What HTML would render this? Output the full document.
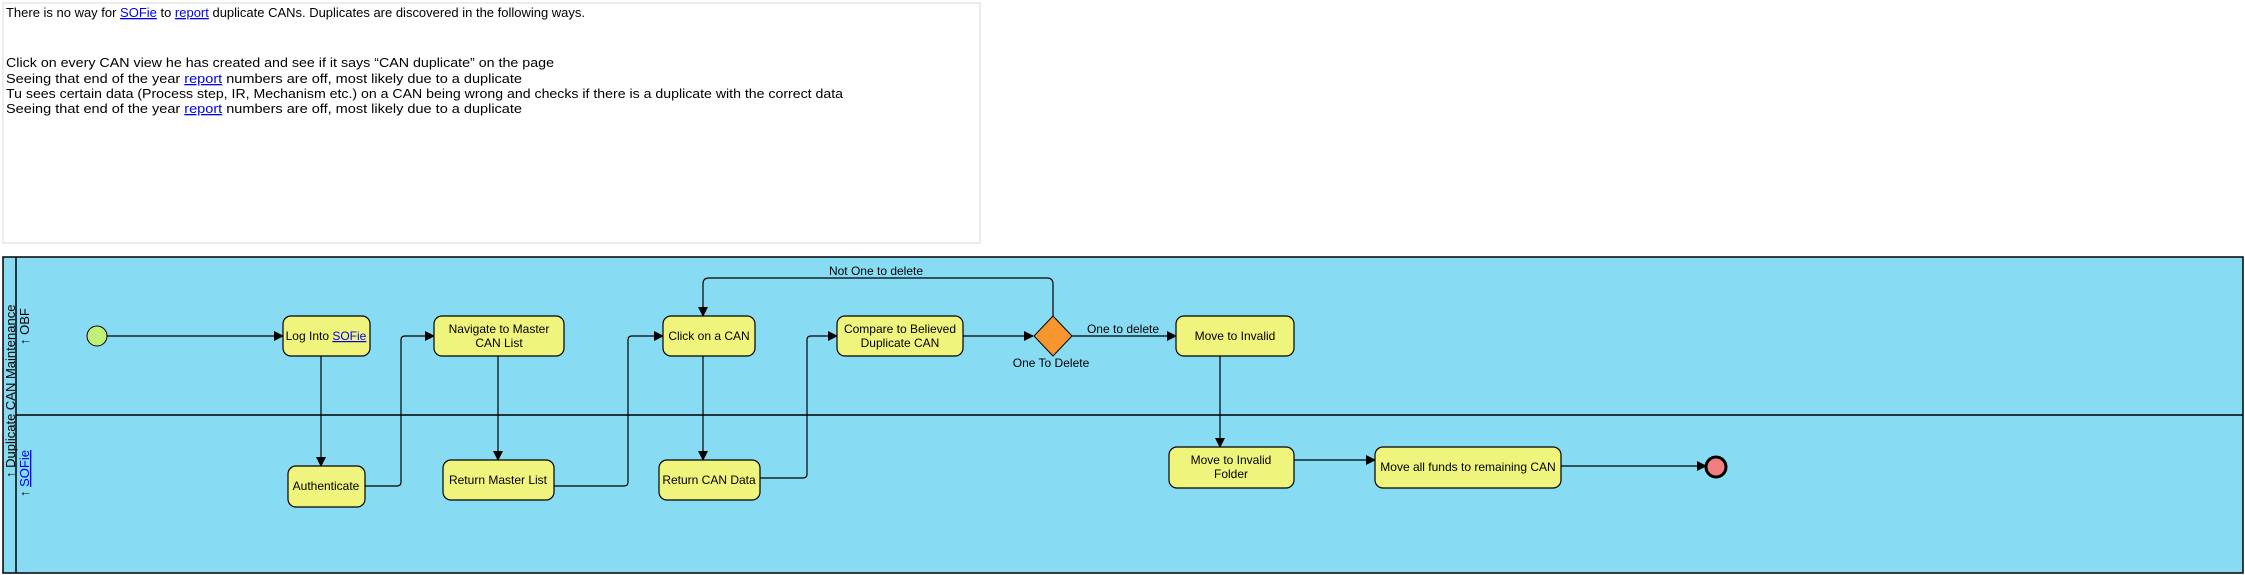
<!DOCTYPE html>
<html><head><meta charset="utf-8"><style>
html,body{margin:0;padding:0;background:#fff;}
svg{display:block;}
text{font-family:"Liberation Sans",sans-serif;}
</style></head><body>
<svg width="2245" height="575" viewBox="0 0 2245 575" xmlns="http://www.w3.org/2000/svg">
<defs>
<marker id="a" markerWidth="10" markerHeight="10" refX="9" refY="5" orient="auto" markerUnits="userSpaceOnUse">
<path d="M0,0 L10,5 L0,10 z" fill="#000"/></marker>
</defs>
<rect x="3" y="3" width="977" height="240" fill="#fff" stroke="#d8d8d8" stroke-width="1"/>
<g font-size="13" fill="#000">
<text x="6" y="17" textLength="579" lengthAdjust="spacingAndGlyphs">There is no way for <tspan fill="#0000ee" text-decoration="underline">SOFie</tspan> to <tspan fill="#0000ee" text-decoration="underline">report</tspan> duplicate CANs. Duplicates are discovered in the following ways.</text>
<text x="6" y="67" textLength="548" lengthAdjust="spacingAndGlyphs">Click on every CAN view he has created and see if it says “CAN duplicate” on the page</text>
<text x="6" y="83" textLength="516" lengthAdjust="spacingAndGlyphs">Seeing that end of the year <tspan fill="#0000ee" text-decoration="underline">report</tspan> numbers are off, most likely due to a duplicate</text>
<text x="6" y="98" textLength="837" lengthAdjust="spacingAndGlyphs">Tu sees certain data (Process step, IR, Mechanism etc.) on a CAN being wrong and checks if there is a duplicate with the correct data</text>
<text x="6" y="113" textLength="516" lengthAdjust="spacingAndGlyphs">Seeing that end of the year <tspan fill="#0000ee" text-decoration="underline">report</tspan> numbers are off, most likely due to a duplicate</text>
</g>
<rect x="3" y="257" width="2240" height="316" fill="#87dcf4" stroke="#000" stroke-width="1.5"/>
<line x1="16" y1="257" x2="16" y2="573" stroke="#000" stroke-width="1.5"/>
<line x1="16" y1="415" x2="2243" y2="415" stroke="#000" stroke-width="1.5"/>
<text transform="translate(15,478) rotate(-90)" font-size="13">↑ Duplicate CAN Maintenance</text>
<text transform="translate(29,345) rotate(-90)" font-size="13">↑ OBF</text>
<text transform="translate(29,497) rotate(-90)" font-size="13">↑ <tspan fill="#0000ee" text-decoration="underline">SOFie</tspan></text>
<g stroke="#000" stroke-width="1.2" fill="none">
<line x1="107" y1="336" x2="283" y2="336" marker-end="url(#a)"/>
<line x1="321" y1="356" x2="321" y2="466" marker-end="url(#a)"/>
<path d="M365,486 H397 Q401,486 401,482 V340 Q401,336 405,336 H434" marker-end="url(#a)"/>
<line x1="498" y1="356" x2="498" y2="460" marker-end="url(#a)"/>
<path d="M554,486 H624 Q628,486 628,482 V340 Q628,336 632,336 H663" marker-end="url(#a)"/>
<line x1="703" y1="356" x2="703" y2="460" marker-end="url(#a)"/>
<path d="M760,478 H803 Q807,478 807,474 V340 Q807,336 811,336 H837" marker-end="url(#a)"/>
<line x1="963" y1="336" x2="1033" y2="336" marker-end="url(#a)"/>
<path d="M1053,316 V284 Q1053,278 1047,278 H709 Q703,278 703,284 V316" marker-end="url(#a)"/>
<line x1="1072" y1="336" x2="1176" y2="336" marker-end="url(#a)"/>
<line x1="1220" y1="356" x2="1220" y2="447" marker-end="url(#a)"/>
<line x1="1294" y1="460" x2="1375" y2="460" marker-end="url(#a)"/>
<line x1="1561" y1="466" x2="1706" y2="466" marker-end="url(#a)"/>
</g>
<circle cx="97" cy="336" r="10" fill="#c2ee7a" stroke="#000" stroke-width="1"/>
<circle cx="1716" cy="467" r="10" fill="#f08080" stroke="#000" stroke-width="3"/>
<polygon points="1053,316 1072,336 1053,356 1034,336" fill="#f7962e" stroke="#000" stroke-width="1"/>
<g fill="#eff47d" stroke="#000" stroke-width="1.2">
<rect x="283" y="316" width="87" height="40" rx="8"/>
<rect x="434" y="316" width="130" height="40" rx="8"/>
<rect x="663" y="316" width="92" height="40" rx="8"/>
<rect x="837" y="316" width="126" height="40" rx="8"/>
<rect x="288" y="466" width="77" height="41" rx="8"/>
<rect x="443" y="460" width="111" height="40" rx="8"/>
<rect x="659" y="460" width="101" height="40" rx="8"/>
<rect x="1176" y="316" width="118" height="40" rx="8"/>
<rect x="1169" y="447" width="125" height="41" rx="8"/>
<rect x="1375" y="447" width="186" height="41" rx="8"/>
</g>
<g font-size="12" text-anchor="middle" fill="#000">
<text x="326" y="340">Log Into <tspan fill="#0000ee" text-decoration="underline">SOFie</tspan></text>
<text x="499" y="333">Navigate to Master</text>
<text x="499" y="347">CAN List</text>
<text x="709" y="340">Click on a CAN</text>
<text x="900" y="333">Compare to Believed</text>
<text x="900" y="347">Duplicate CAN</text>
<text x="326" y="490">Authenticate</text>
<text x="498" y="484">Return Master List</text>
<text x="709" y="484">Return CAN Data</text>
<text x="1235" y="340">Move to Invalid</text>
<text x="1231" y="464">Move to Invalid</text>
<text x="1231" y="478">Folder</text>
<text x="1468" y="471">Move all funds to remaining CAN</text>
<text x="876" y="275">Not One to delete</text>
<text x="1123" y="333">One to delete</text>
<text x="1051" y="367">One To Delete</text>
</g>
</svg>
</body></html>
